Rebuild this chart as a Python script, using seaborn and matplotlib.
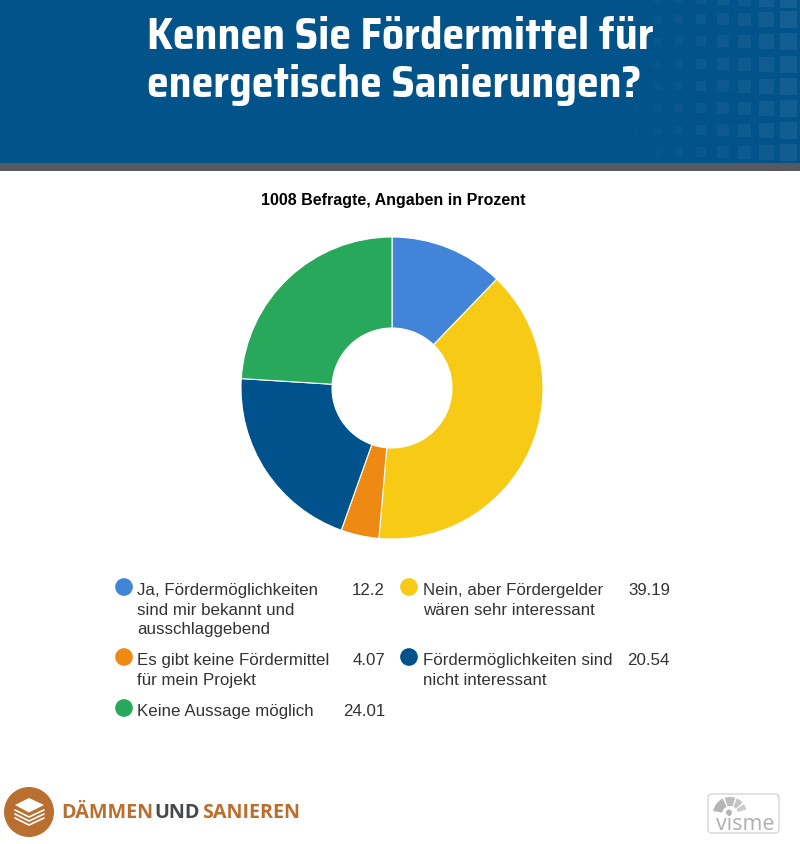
import matplotlib
matplotlib.use("Agg")
import matplotlib.pyplot as plt
from matplotlib.patches import Rectangle, Circle, Polygon, FancyBboxPatch, Wedge
import pandas as pd
import seaborn as sns

title_lines = ["Kennen Sie Fördermittel für", "energetische Sanierungen?"]
subtitle = "1008 Befragte, Angaben in Prozent"
labels = [
    "Ja, Fördermöglichkeiten\nsind mir bekannt und\nausschlaggebend",
    "Nein, aber Fördergelder\nwären sehr interessant",
    "Es gibt keine Fördermittel\nfür mein Projekt",
    "Fördermöglichkeiten sind\nnicht interessant",
    "Keine Aussage möglich",
]
values = [12.2, 39.19, 4.07, 20.54, 24.01]
value_labels = ["12.2", "39.19", "4.07", "20.54", "24.01"]
colors = ["#4285d8", "#f7cb15", "#ee8a14", "#00528c", "#27a85a"]

sns.set_theme(style="white")
plt.rcParams["font.family"] = ["Liberation Sans", "DejaVu Sans"]

fig = plt.figure(figsize=(8, 8.45), dpi=100)

# Ebene in Pixelkoordinaten fuer Kopf, Legende und Logos
bg = fig.add_axes([0, 0, 1, 1])
bg.set_xlim(0, 800)
bg.set_ylim(845, 0)
bg.axis("off")

bg.add_patch(Rectangle((0, 0), 800, 163.5, color="#03538b", lw=0))
bg.add_patch(Rectangle((0, 163.5), 800, 8, color="#55595e", lw=0))

# Punktraster rechts im Kopf
cols = [635, 657, 679, 701, 723, 744, 766, 788]
sizes = [5, 7, 8, 10, 12, 13, 15, 17]
rows = [0, 20, 42, 65, 87, 109, 131, 153]
for i, px in enumerate(cols):
    for py in rows:
        s = sizes[i]
        bg.add_patch(Rectangle((px - s / 2, py - s / 2), s, s, color="white",
                               alpha=0.01 + 0.007 * i + 0.001 * (153 - py) / 21, lw=0))

for line, y in zip(title_lines, [37, 85]):
    bg.text(147, y, line, color="white", fontsize=31.5, fontweight="bold",
            family=["Saira SemiCondensed", "Liberation Sans"],
            ha="left", va="center")
bg.text(393, 200.5, subtitle, fontsize=11.55, fontweight="bold", color="black",
        ha="center", va="center")

# Donut
cx, cy, r = 392, 389, 151
pie_ax = fig.add_axes([(cx - r) / 800, 1 - (cy + r) / 845, 2 * r / 800, 2 * r / 845])
pie_ax.pie(values, colors=colors, startangle=90, counterclock=False, radius=1,
           wedgeprops=dict(width=1 - 60 / 151, edgecolor="white", linewidth=0.8))
pie_ax.set_xlim(-1, 1)
pie_ax.set_ylim(-1, 1)

# Legende
dot_x = [124, 409, 124, 409, 124]
dot_y = [588, 588, 658, 658, 709]
text_x = [137, 423, 137, 423, 137]
num_x = [385, 670, 385, 670, 385]
legend_df = pd.DataFrame({"x": dot_x, "y": dot_y, "label": labels})
sns.scatterplot(data=legend_df, x="x", y="y", hue="label", palette=colors,
                s=162, linewidth=0, legend=False, ax=bg)
bg.set_xlim(0, 800)
bg.set_ylim(845, 0)
bg.axis("off")
for tx, nx, y, lab, val in zip(text_x, num_x, dot_y, labels, value_labels):
    bg.text(tx, y - 4.5, lab, fontsize=12.2, color="#333333", ha="left", va="top",
            linespacing=1.35)
    bg.text(nx, y - 4.5, val, fontsize=12.2, color="#333333", ha="right", va="top")

# Logo Daemmen und Sanieren
brown = "#b96f2f"
bg.add_patch(Circle((29, 813), 25, color=brown, lw=0))
bg.add_patch(Polygon([(15, 806), (29, 799), (44, 806), (29, 813.5)], closed=True, fc="white", lw=0))
for dy in [0, 4, 8]:
    bg.plot([15, 29, 44], [811 + dy, 818 + dy, 811 + dy], color="white", lw=1.2)

x = 61
for word, col in [("DÄMMEN", brown), ("UND", "#474a4d"), ("SANIEREN", brown)]:
    t = bg.text(x, 813.5, word, fontsize=14.2, fontweight="bold", color=col,
                family=["Open Sans", "DejaVu Sans"], ha="left", va="center")
    fig.canvas.draw()
    box = t.get_window_extent().transformed(bg.transData.inverted())
    x = box.x1 + 1.5

# Visme Marke
bg.add_patch(FancyBboxPatch((710, 797), 67, 35, boxstyle="round,pad=2,rounding_size=4",
                            fc="white", ec="#d6d6d6", lw=1))
for a1, a2, c in [(115, 170, "#b5b5b5"), (72, 108, "#bdbdbd"), (42, 66, "#c4c4c4"), (15, 36, "#cccccc")]:
    bg.add_patch(Wedge((730, 815), 17, -a2, -a1, width=9, fc=c, lw=0))
bg.add_patch(Circle((729, 813.5), 3, color="#b5b5b5", lw=0))
bg.text(745, 825, "visme", fontsize=15.5, color="#b0b0b0", ha="center", va="center",
        family=["Open Sans", "DejaVu Sans"])

fig.savefig("out.png", dpi=100)
